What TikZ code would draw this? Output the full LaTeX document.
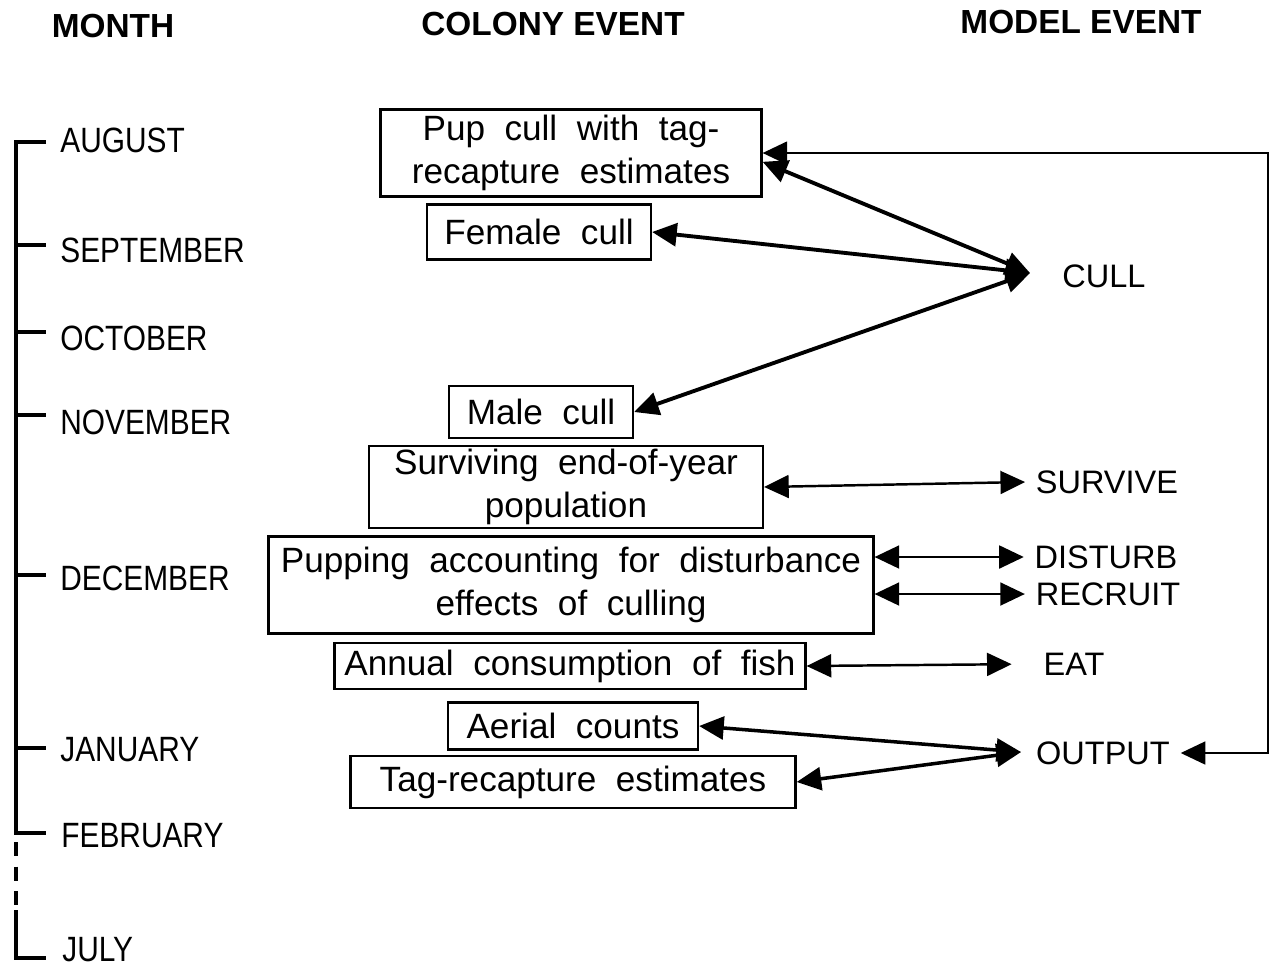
\documentclass[tikz,border=0pt]{standalone}
\usepackage{fontspec}
\setmainfont{Liberation Sans}
\newfontfamily\boxfont[WordSpace=2.0]{Liberation Sans}
\usetikzlibrary{arrows.meta}
\newcommand{\mon}[1]{\scalebox{0.85}[1]{#1}}

\begin{document}
\begin{tikzpicture}[x=0.02cm,y=-0.02cm,
  event/.style={draw,line width=1.3pt,inner sep=1pt,align=center,font=\boxfont\fontsize{20}{24.5}\selectfont},
  model/.style={inner sep=6pt,font=\fontsize{18.5}{22}\selectfont},
  head/.style={font=\bfseries\fontsize{19}{22}\selectfont},
  month/.style={anchor=west,inner sep=0pt,font=\fontsize{20}{22}\selectfont},
  link/.style={{Triangle[length=14pt,width=13pt]}-{Triangle[length=14pt,width=13pt]},line width=1.4pt},
  timeline/.style={line width=2.6pt}]
\useasboundingbox (0,0) rectangle (1271,968);

% column heads
\node[head] (hmonth) at (113,26) {MONTH};
\node[head] (hcolony) at (553,24) {COLONY EVENT};
\node[head] (hmodel) at (1081,22) {MODEL EVENT};

% months
\draw[timeline] (46,142) -- (16,142) -- (16,833) -- (46,833);
\draw[timeline,dash pattern=on 8pt off 6pt] (16,842) -- (16,905);
\draw[timeline] (16,910) -- (16,958) -- (46,958);
\foreach \m/\y/\ly in {AUGUST/142/140,SEPTEMBER/245/250,OCTOBER/332/338,NOVEMBER/415/422,DECEMBER/575/578,JANUARY/748/750}{
  \draw[timeline] (16,\y) -- (46,\y);
  \node[month] (\m) at (60,\ly) {\mon{\m}};
}
\node[month] (FEBRUARY) at (61,836) {\mon{FEBRUARY}};
\node[month] (JULY) at (62,950) {\mon{JULY}};

% colony events
\node[event,minimum width=7.62cm,minimum height=1.74cm] (pup) at (571,153) {Pup cull with tag-\\recapture estimates};
\node[event,minimum width=4.48cm,minimum height=1.1cm] (female) at (539,232) {Female cull};
\node[event,minimum width=3.68cm,minimum height=1.04cm] (male) at (541,412) {Male cull};
\node[event,minimum width=7.88cm,minimum height=1.64cm] (surv) at (566,487) {Surviving end-of-year\\population};
\node[event,minimum width=12.1cm,minimum height=1.94cm] (pupping) at (571,585) {Pupping accounting for disturbance\\effects of culling};
\node[event,minimum width=9.42cm,minimum height=0.92cm] (annual) at (570,666) {Annual consumption of fish};
\node[event,minimum width=5cm,minimum height=0.94cm] (aerial) at (573,726) {Aerial counts};
\node[event,minimum width=8.9cm,minimum height=1.04cm] (tagest) at (573,782) {Tag-recapture estimates};

% model events
\node[model] (cull) at (1104,276) {CULL};
\node[model] (survive) at (1107,482) {SURVIVE};
\node[model] (disturb) at (1106,557) {DISTURB};
\node[model] (recruit) at (1108,594) {RECRUIT};
\node[model] (eat) at (1074,664) {EAT};
\node[model] (output) at (1103,753) {OUTPUT};
\coordinate (cullpt) at (1030,273);
\coordinate (outpt) at (1021,752);
\coordinate (rail) at (1268,0);

% links
\draw[link,line width=2.2pt] ([yshift=-5pt]pup.east) -- (cullpt);
\draw[link,line width=2.2pt] (female.east) -- (cullpt);
\draw[link,line width=2.2pt] (male.east) -- (cullpt);
\draw[link] (surv.east) -- (survive.west);
\draw[link] (pupping.east |- disturb.west) -- (disturb.west);
\draw[link] (pupping.east |- recruit.west) -- (recruit.west);
\draw[link,shorten >=12pt] (annual.east) -- (eat.west);
\draw[link,line width=2pt] (aerial.east) -- (outpt);
\draw[link,line width=2pt] (tagest.east) -- (outpt);
\draw[link,line width=1.2pt] (pup.east) -- (pup.east -| rail) -- (rail |- output.east) -- (output.east);
\end{tikzpicture}
\end{document}
